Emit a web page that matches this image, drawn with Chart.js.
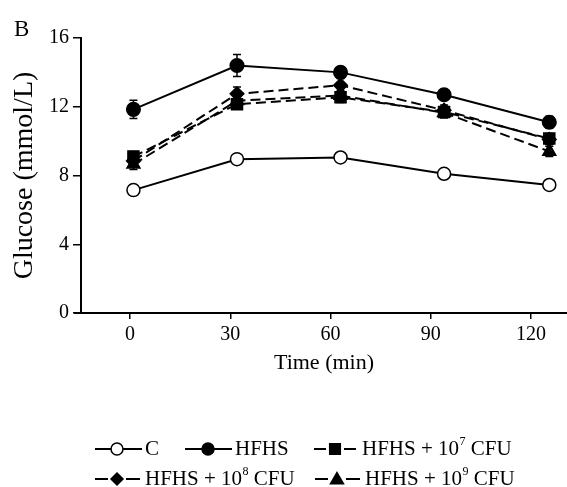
<!DOCTYPE html>
<html><head><meta charset="utf-8">
<script src="https://cdn.jsdelivr.net/npm/chart.js@4"></script>
<style>html,body{margin:0;padding:0;background:#fff}</style>
</head><body>
<canvas id="c" width="567" height="487" style="width:567px;height:487px;display:block"></canvas>
<script>
// ---- data ----
const times = [1, 32, 63, 94, 125.5];          // sampling time (min)
const xTicks = [0, 30, 60, 90, 120];
const yTicks = [0, 4, 8, 12, 16];
const seriesLabels = ['C', 'HFHS', 'HFHS + 10^7 CFU', 'HFHS + 10^8 CFU', 'HFHS + 10^9 CFU'];
const valC    = [7.15, 8.95, 9.05, 8.10, 7.45];
const valHFHS = [11.85, 14.40, 14.00, 12.70, 11.10];
const val7    = [9.10, 12.15, 12.55, 11.70, 10.15];
const val8    = [8.85, 12.75, 13.25, 11.80, 10.10];
const val9    = [8.65, 12.35, 12.65, 11.65, 9.40];
const errC    = [0.30, 0.20, 0.20, 0.20, 0.20];
const errHFHS = [0.53, 0.64, 0.30, 0.30, 0.35];
const err7    = [0.30, 0.30, 0.30, 0.30, 0.30];
const err8    = [0.30, 0.40, 0.40, 0.30, 0.30];
const err9    = [0.30, 0.30, 0.30, 0.30, 0.30];

const FONT = "'Liberation Serif', 'Times New Roman', serif";
Chart.defaults.font.family = FONT;
Chart.defaults.color = '#000';

const toPts = v => v.map((y, i) => ({x: times[i], y}));
const styles = [
  {vals: valC,    err: errC,    ps: 'circle',   r: 6.5, fill: '#fff', dash: []},
  {vals: valHFHS, err: errHFHS, ps: 'circle',   r: 6.8, fill: '#000', dash: []},
  {vals: val7,    err: err7,    ps: 'rect',     r: 7.8, fill: '#000', dash: [10, 5]},
  {vals: val8,    err: err8,    ps: 'rectRot',  r: 6.8, fill: '#000', dash: [10, 5]},
  {vals: val9,    err: err9,    ps: 'triangle', r: 7.5, fill: '#000', dash: [10, 5]},
];

const datasets = styles.map((s, i) => ({
  label: seriesLabels[i],
  data: toPts(s.vals),
  errors: s.err,
  borderColor: '#000',
  borderWidth: 2,
  borderDash: s.dash,
  pointStyle: s.ps,
  pointRadius: s.r,
  pointBackgroundColor: s.fill,
  pointBorderColor: '#000',
  pointBorderWidth: 1.5,
  showLine: true,
  fill: false,
  tension: 0,
  order: 5 - i
}));

const errorBars = {
  id: 'errorBars',
  beforeDatasetsDraw(chart) {
    const {ctx, scales: {x, y}} = chart;
    ctx.save();
    ctx.strokeStyle = '#000';
    ctx.lineWidth = 1.5;
    chart.data.datasets.forEach(ds => {
      ds.data.forEach((p, i) => {
        const e = ds.errors[i];
        const px = x.getPixelForValue(p.x);
        const y1 = y.getPixelForValue(p.y + e), y2 = y.getPixelForValue(p.y - e);
        ctx.beginPath();
        ctx.moveTo(px, y1); ctx.lineTo(px, y2);
        ctx.moveTo(px - 4, y1); ctx.lineTo(px + 4, y1);
        ctx.moveTo(px - 4, y2); ctx.lineTo(px + 4, y2);
        ctx.stroke();
      });
    });
    ctx.restore();
  }
};

function drawMarker(ctx, ps, x, y, r, fill) {
  ctx.save();
  ctx.fillStyle = fill; ctx.strokeStyle = '#000'; ctx.lineWidth = 1.5;
  ctx.beginPath();
  if (ps === 'circle') ctx.arc(x, y, r, 0, Math.PI * 2);
  else if (ps === 'rect') { const s = r * Math.SQRT1_2; ctx.rect(x - s, y - s, 2 * s, 2 * s); }
  else if (ps === 'rectRot') { ctx.moveTo(x - r, y); ctx.lineTo(x, y - r); ctx.lineTo(x + r, y); ctx.lineTo(x, y + r); ctx.closePath(); }
  else if (ps === 'triangle') { ctx.moveTo(x, y - r); ctx.lineTo(x + r * 0.866, y + r / 2); ctx.lineTo(x - r * 0.866, y + r / 2); ctx.closePath(); }
  ctx.fill(); ctx.stroke();
  ctx.restore();
}

const legendLayout = [
  {x0: 95,  x1: 142, mx: 117, tx: 145, ty: 449, dashed: false},
  {x0: 185, x1: 232, mx: 208, tx: 235, ty: 449, dashed: false},
  {x0: 314, x1: 356, mx: 335, tx: 362, ty: 449, dashed: true},
  {x0: 95,  x1: 140, mx: 117, tx: 145, ty: 479, dashed: true},
  {x0: 315, x1: 360, mx: 337, tx: 365, ty: 479, dashed: true},
];

const extras = {
  id: 'extras',
  afterDraw(chart) {
    const {ctx, chartArea} = chart;
    ctx.save();
    // x-axis line overhang to the left of the y axis
    ctx.strokeStyle = '#000'; ctx.lineWidth = 2;
    ctx.beginPath();
    ctx.moveTo(chartArea.left - 7, chartArea.bottom); ctx.lineTo(chartArea.left, chartArea.bottom);
    ctx.stroke();
    // panel letter
    ctx.fillStyle = '#000';
    ctx.font = '23px ' + FONT;
    ctx.textBaseline = 'alphabetic'; ctx.textAlign = 'left';
    ctx.fillText('B', 14, 36);
    // legend
    chart.data.datasets.forEach((ds, i) => {
      const L = legendLayout[i], s = styles[i];
      ctx.save();
      ctx.strokeStyle = '#000'; ctx.lineWidth = 2;
      ctx.beginPath();
      if (L.dashed) {
        ctx.moveTo(L.x0, L.ty); ctx.lineTo(L.mx - 9, L.ty);
        ctx.moveTo(L.mx + 9, L.ty); ctx.lineTo(L.x1, L.ty);
      } else {
        ctx.moveTo(L.x0, L.ty); ctx.lineTo(L.x1, L.ty);
      }
      ctx.stroke();
      ctx.restore();
      const lr = s.ps === 'circle' ? 6 : s.ps === 'rect' ? 7.5 : s.ps === 'rectRot' ? 6 : 7.5;
      drawMarker(ctx, s.ps, L.mx, L.ty + (s.ps === 'triangle' ? 1 : 0), lr, s.fill);
      // label with superscript
      const parts = ds.label.split('^');
      ctx.fillStyle = '#000'; ctx.textBaseline = 'middle'; ctx.textAlign = 'left';
      ctx.font = '21px ' + FONT;
      let x = L.tx;
      ctx.fillText(parts[0], x, L.ty);
      x += ctx.measureText(parts[0]).width;
      if (parts.length > 1) {
        const exp = parts[1].charAt(0), rest = parts[1].slice(1);
        ctx.font = '12px ' + FONT;
        ctx.fillText(exp, x + 0.5, L.ty - 7);
        x += ctx.measureText(exp).width + 0.5;
        ctx.font = '21px ' + FONT;
        ctx.fillText(rest, x, L.ty);
      }
    });
    ctx.restore();
  }
};

new Chart(document.getElementById('c'), {
  type: 'scatter',
  data: {datasets},
  options: {
    responsive: false,
    animation: false,
    layout: {autoPadding: false, padding: {top: 38, right: 0, left: 0, bottom: 0}},
    plugins: {legend: {display: false}, tooltip: {enabled: false}},
    scales: {
      x: {
        type: 'linear', min: -14.7, max: 130.8,
        afterFit(s) { s.height = 174; s.paddingLeft = 0; s.paddingRight = 0; },
        afterBuildTicks(s) { s.ticks = xTicks.map(v => ({value: v})); },
        grid: {display: true, drawOnChartArea: false, drawTicks: true, tickLength: 6, color: '#000', lineWidth: 1.5},
        border: {display: true, color: '#000', width: 2},
        ticks: {padding: 4, font: {size: 20}, color: '#000', maxRotation: 0, autoSkip: false},
        title: {display: true, text: 'Time (min)', font: {size: 22}, color: '#000', padding: {top: 0, bottom: 111}}
      },
      y: {
        type: 'linear', min: 0, max: 16,
        afterFit(s) { s.width = 81; s.paddingTop = 0; s.paddingBottom = 0; },
        afterBuildTicks(s) { s.ticks = yTicks.map(v => ({value: v})); },
        grid: {display: true, drawOnChartArea: false, drawTicks: true, tickLength: 8, color: '#000', lineWidth: 1.5},
        border: {display: true, color: '#000', width: 2},
        ticks: {padding: 4, font: {size: 20}, color: '#000'},
        title: {display: true, text: 'Glucose (mmol/L)', font: {size: 28}, color: '#000', padding: {top: 8, bottom: 0}}
      }
    }
  },
  plugins: [errorBars, extras]
});
</script>
</body></html>
